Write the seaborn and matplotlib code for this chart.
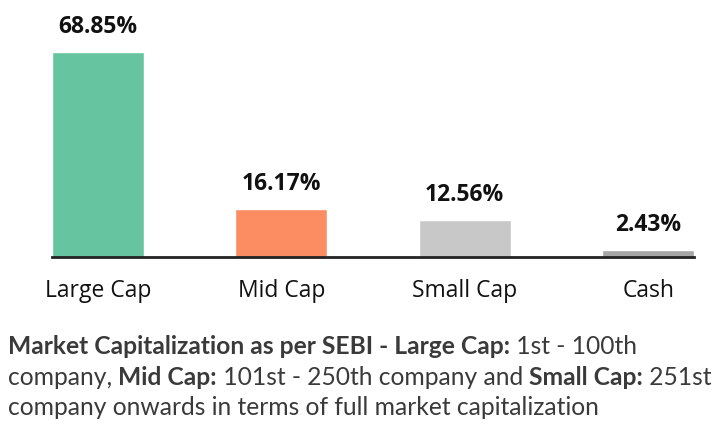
import matplotlib
matplotlib.use("Agg")
import matplotlib.pyplot as plt
import seaborn as sns
import pandas as pd

# Данные
categories = ["Large Cap", "Mid Cap", "Small Cap", "Cash"]
weights = [68.85, 16.17, 12.56, 2.43]
bar_colors = ["#66c5a0", "#fc8d62", "#c8c8c8", "#a6a6a6"]

caption_lines = [
    [("Market Capitalization as per SEBI - Large Cap:", True), (" 1st - 100th", False)],
    [("company, ", False), ("Mid Cap:", True), (" 101st - 250th company and ", False),
     ("Small Cap:", True), (" 251st", False)],
    [("company onwards in terms of full market capitalization", False)],
]

sns.set_style("white")
plt.rcParams['font.family'] = ['Open Sans', 'DejaVu Sans']

df = pd.DataFrame({"category": categories, "weight": weights})

fig = plt.figure(figsize=(7.21, 4.31), dpi=100)
ax = fig.add_axes([52 / 721, 173 / 431, 642 / 721, 258 / 431])

sns.barplot(data=df, x="category", y="weight", hue="category",
            palette=bar_colors, width=0.5, saturation=1, legend=False, ax=ax)

ax.set_xlim(-0.25, 3.25)
ax.set_ylim(0, 86.6)
ax.set_xlabel("")
ax.set_ylabel("")
ax.set_yticks([])
sns.despine(ax=ax, left=True)
ax.spines["bottom"].set_color("#222222")
ax.spines["bottom"].set_linewidth(2)
ax.spines["bottom"].set_zorder(5)
ax.tick_params(axis="x", length=0, pad=15, labelsize=16.5, labelcolor="#111111")

# Подписи значений
for i, v in enumerate(weights):
    ax.annotate(f"{v:.2f}%", (i, v), xytext=(0, 14), textcoords="offset points",
                ha="center", va="baseline", fontsize=16.5, fontweight="bold",
                color="#111111")

# Подпись снизу (смешанный жирный/обычный текст)
fig.canvas.draw()
renderer = fig.canvas.get_renderer()
baselines = [354, 385, 415]
for line, yb in zip(caption_lines, baselines):
    x = 8
    for txt, bold in line:
        t = fig.text(x / 721, 1 - yb / 431, txt, fontsize=17.7, color="#3a3a3a",
                     fontweight="bold" if bold else "normal", va="baseline",
                     ha="left", family=["Lato", "DejaVu Sans"])
        bb = t.get_window_extent(renderer)
        x += bb.width

fig.savefig("out.png", dpi=100)
